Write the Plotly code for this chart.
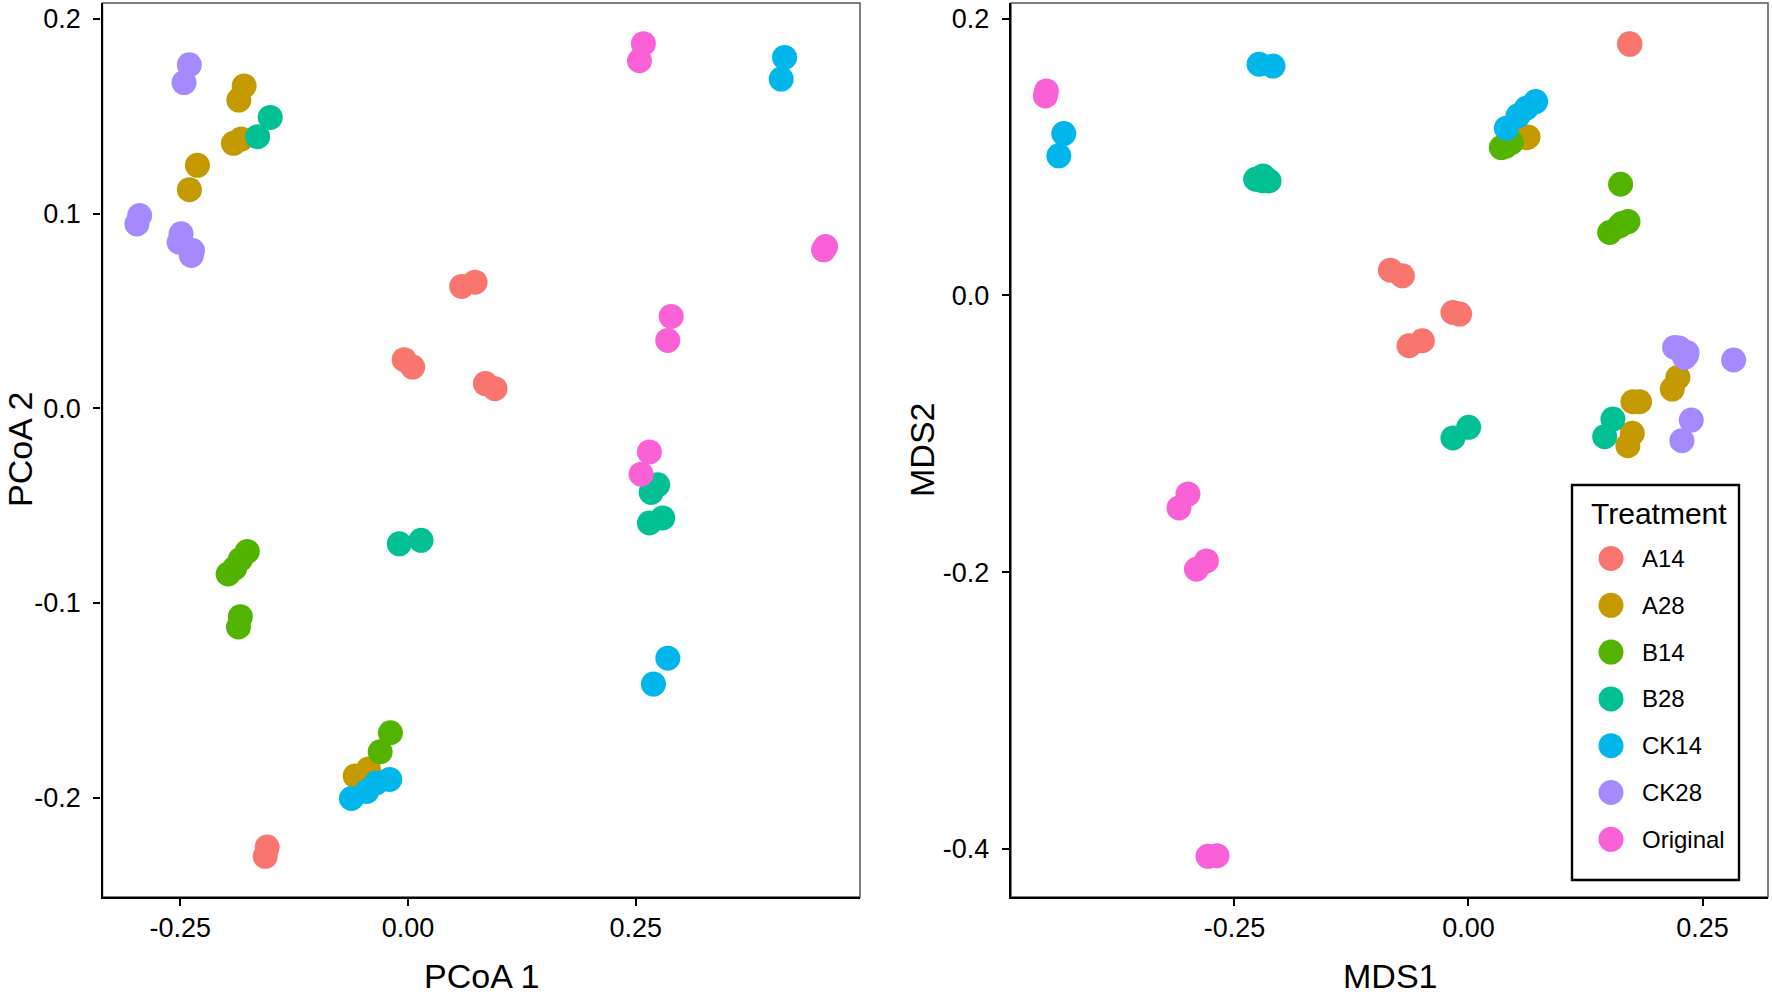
import plotly.graph_objects as go

# ---------------- data ----------------
treatments = ["A14", "A28", "B14", "B28", "CK14", "CK28", "Original"]
colors = ["#F8766D", "#C49A00", "#53B400", "#00C094", "#00B6EB", "#A58AFF", "#FB61D7"]

pcoa1 = {
    "A14": [0.0589, 0.0736, -0.0042, 0.0051, 0.0849, 0.0954, -0.1546, -0.1567],
    "A28": [-0.1798, -0.1857, -0.1831, -0.1916, -0.2311, -0.2399, -0.0580, -0.0433],
    "B14": [-0.1764, -0.1840, -0.1903, -0.1974, -0.1840, -0.1861, -0.0193, -0.0306],
    "B28": [-0.1512, -0.1651, -0.0096, 0.0143, 0.2740, 0.2668, 0.2795, 0.2649],
    "CK14": [-0.0621, -0.0453, -0.0348, -0.0201, 0.2851, 0.2693, 0.4132, 0.4095],
    "CK28": [-0.2400, -0.2458, -0.2945, -0.2975, -0.2491, -0.2512, -0.2365, -0.2378],
    "Original": [0.2583, 0.2540, 0.4582, 0.4560, 0.2888, 0.2850, 0.2649, 0.2558],
}
pcoa2 = {
    "A14": [0.0626, 0.0648, 0.0250, 0.0212, 0.0127, 0.0101, -0.2253, -0.2301],
    "A28": [0.1656, 0.1583, 0.1383, 0.1361, 0.1248, 0.1123, -0.1888, -0.1852],
    "B14": [-0.0735, -0.0776, -0.0821, -0.0851, -0.1070, -0.1123, -0.1666, -0.1764],
    "B28": [0.1494, 0.1395, -0.0696, -0.0678, -0.0393, -0.0432, -0.0563, -0.0589],
    "CK14": [-0.2004, -0.1968, -0.1924, -0.1906, -0.1283, -0.1416, 0.1802, 0.1691],
    "CK28": [0.1764, 0.1673, 0.0990, 0.0947, 0.0896, 0.0853, 0.0810, 0.0785],
    "Original": [0.1873, 0.1785, 0.0831, 0.0814, 0.0472, 0.0349, -0.0224, -0.0338],
}
mds1 = {
    "A14": [-0.0834, -0.0706, -0.0166, -0.0094, -0.0635, -0.0492, 0.1721, 0.1725],
    "A28": [0.0636, 0.0620, 0.2237, 0.2177, 0.1757, 0.1828, 0.1750, 0.1703],
    "B14": [0.0351, 0.0458, 0.0400, 0.1625, 0.1704, 0.1615, 0.1508, 0.1640],
    "B28": [-0.2273, -0.2195, -0.2130, -0.2200, -0.0166, 0.0002, 0.1543, 0.1455],
    "CK14": [-0.4323, -0.4376, -0.2237, -0.2088, 0.0718, 0.0618, 0.0529, 0.0405],
    "CK28": [0.2202, 0.2334, 0.2309, 0.2832, 0.2380, 0.2280, 0.2250, 0.2330],
    "Original": [-0.4508, -0.4519, -0.2996, -0.3092, -0.2799, -0.2906, -0.2782, -0.2686],
}
mds2 = {
    "A14": [0.0183, 0.0142, -0.0123, -0.0134, -0.0363, -0.0327, 0.1820, 0.1815],
    "A28": [0.1146, 0.1140, -0.0592, -0.0676, -0.0768, -0.0768, -0.0996, -0.1085],
    "B14": [0.1069, 0.1105, 0.1080, 0.0804, 0.0534, 0.0503, 0.0455, 0.0520],
    "B28": [0.0840, 0.0864, 0.0828, 0.0830, -0.1030, -0.0953, -0.0893, -0.1020],
    "CK14": [0.1170, 0.1009, 0.1671, 0.1658, 0.1401, 0.1353, 0.1298, 0.1209],
    "CK28": [-0.0375, -0.0412, -0.0448, -0.0466, -0.0900, -0.1049, -0.0380, -0.0430],
    "Original": [0.1478, 0.1442, -0.1435, -0.1535, -0.1918, -0.1978, -0.4053, -0.4048],
}

pcoa_xticks = [-0.25, 0.0, 0.25]
pcoa_xlabels = ["-0.25", "0.00", "0.25"]
pcoa_yticks = [-0.2, -0.1, 0.0, 0.1, 0.2]
pcoa_ylabels = ["-0.2", "-0.1", "0.0", "0.1", "0.2"]
mds_xticks = [-0.25, 0.0, 0.25]
mds_xlabels = ["-0.25", "0.00", "0.25"]
mds_yticks = [-0.4, -0.2, 0.0, 0.2]
mds_ylabels = ["-0.4", "-0.2", "0.0", "0.2"]

# ---------------- layout helpers ----------------
W, H = 1772, 994
FONT = "Arial, Liberation Sans, sans-serif"
PT = 25  # point diameter


def px_x(p):
    return p / W


def px_y(p):
    return 1 - p / H


def expanded(d):
    vals = [v for k in d for v in d[k]]
    lo, hi = min(vals), max(vals)
    pad = (hi - lo) * 0.05
    return [lo - pad, hi + pad]


fig = go.Figure()

for t, c in zip(treatments, colors):
    fig.add_trace(go.Scatter(x=pcoa1[t], y=pcoa2[t], mode="markers", name=t,
                             marker=dict(color=c, size=PT, line=dict(width=0)),
                             xaxis="x", yaxis="y", showlegend=False))
for t, c in zip(treatments, colors):
    fig.add_trace(go.Scatter(x=mds1[t], y=mds2[t], mode="markers", name=t,
                             marker=dict(color=c, size=PT, line=dict(width=0)),
                             xaxis="x2", yaxis="y2", showlegend=False))

# manual legend (large keys as in the reference)
LEG_L, LEG_R, LEG_T, LEG_B = 1572, 1739, 485, 880
item_gap = 46.8
first_item = 73.5
leg_y = [first_item + i * item_gap for i in range(len(treatments))]
fig.add_trace(go.Scatter(x=[39] * len(treatments), y=leg_y, mode="markers",
                         marker=dict(color=colors, size=PT, line=dict(width=0)),
                         xaxis="x3", yaxis="y3", showlegend=False, hoverinfo="skip"))

annotations = []
for t, yy in zip(treatments, leg_y):
    annotations.append(dict(x=68, y=yy, xref="x3", yref="y3", text=t, showarrow=False,
                            xanchor="left", yanchor="middle",
                            font=dict(family=FONT, size=24, color="black")))
annotations.append(dict(x=16.5, y=28, xref="x3", yref="y3", text="Treatment", showarrow=False,
                        xanchor="left", yanchor="middle",
                        font=dict(family=FONT, size=30, color="black")))

L1 = (102.5, 860)
L2 = (1011, 1768)
YT, YB = 3, 897

# axis titles
TITLE_FONT = dict(family=FONT, size=34, color="black")
annotations += [
    dict(x=px_x((L1[0] + L1[1]) / 2), y=px_y(976), xref="paper", yref="paper", text="PCoA 1",
         showarrow=False, xanchor="center", yanchor="middle", font=TITLE_FONT),
    dict(x=px_x((L2[0] + L2[1]) / 2), y=px_y(976), xref="paper", yref="paper", text="MDS1",
         showarrow=False, xanchor="center", yanchor="middle", font=TITLE_FONT),
    dict(x=px_x(20), y=px_y((YT + YB) / 2), xref="paper", yref="paper", text="PCoA 2",
         showarrow=False, xanchor="center", yanchor="middle", textangle=-90, font=TITLE_FONT),
    dict(x=px_x(922), y=px_y((YT + YB) / 2), xref="paper", yref="paper", text="MDS2",
         showarrow=False, xanchor="center", yanchor="middle", textangle=-90, font=TITLE_FONT),
]

axis_common = dict(showgrid=False, zeroline=False, showline=True, linecolor="black", linewidth=2.4,
                   ticks="outside", ticklen=7, tickwidth=2, tickcolor="black",
                   tickfont=dict(family=FONT, size=27, color="black"), automargin=False)

shapes = []
for (xl, xr) in (L1, L2):
    shapes.append(dict(type="rect", xref="paper", yref="paper",
                       x0=px_x(xl), x1=px_x(xr), y0=px_y(YB), y1=px_y(YT),
                       line=dict(color="#555555", width=1.5), layer="below"))
shapes.append(dict(type="rect", xref="paper", yref="paper",
                   x0=px_x(LEG_L), x1=px_x(LEG_R), y0=px_y(LEG_B), y1=px_y(LEG_T),
                   line=dict(color="black", width=2.4), fillcolor="white", layer="below"))

fig.update_layout(
    width=W, height=H, margin=dict(l=0, r=0, t=0, b=0),
    paper_bgcolor="white", plot_bgcolor="rgba(0,0,0,0)",
    font=dict(family=FONT, color="black"),
    xaxis=dict(domain=[px_x(L1[0]), px_x(L1[1])], range=expanded(pcoa1), anchor="y",
               tickvals=pcoa_xticks, ticktext=pcoa_xlabels, ticklabelstandoff=-2, **axis_common),
    yaxis=dict(domain=[px_y(YB), px_y(YT)], range=expanded(pcoa2), anchor="x",
               tickvals=pcoa_yticks, ticktext=pcoa_ylabels, ticklabelstandoff=7, **axis_common),
    xaxis2=dict(domain=[px_x(L2[0]), px_x(L2[1])], range=expanded(mds1), anchor="y2",
                tickvals=mds_xticks, ticktext=mds_xlabels, ticklabelstandoff=-2, **axis_common),
    yaxis2=dict(domain=[px_y(YB), px_y(YT)], range=expanded(mds2), anchor="x2",
                tickvals=mds_yticks, ticktext=mds_ylabels, ticklabelstandoff=7, **axis_common),
    xaxis3=dict(domain=[px_x(LEG_L), px_x(LEG_R)], range=[0, LEG_R - LEG_L], visible=False, fixedrange=True),
    yaxis3=dict(domain=[px_y(LEG_B), px_y(LEG_T)], range=[LEG_B - LEG_T, 0], visible=False, fixedrange=True,
                anchor="x3"),
    shapes=shapes,
    annotations=annotations,
    showlegend=False,
)

fig.write_html("out.html", config={"displayModeBar": False},
               post_script="document.body.style.margin='0px';document.body.style.overflow='hidden';")
